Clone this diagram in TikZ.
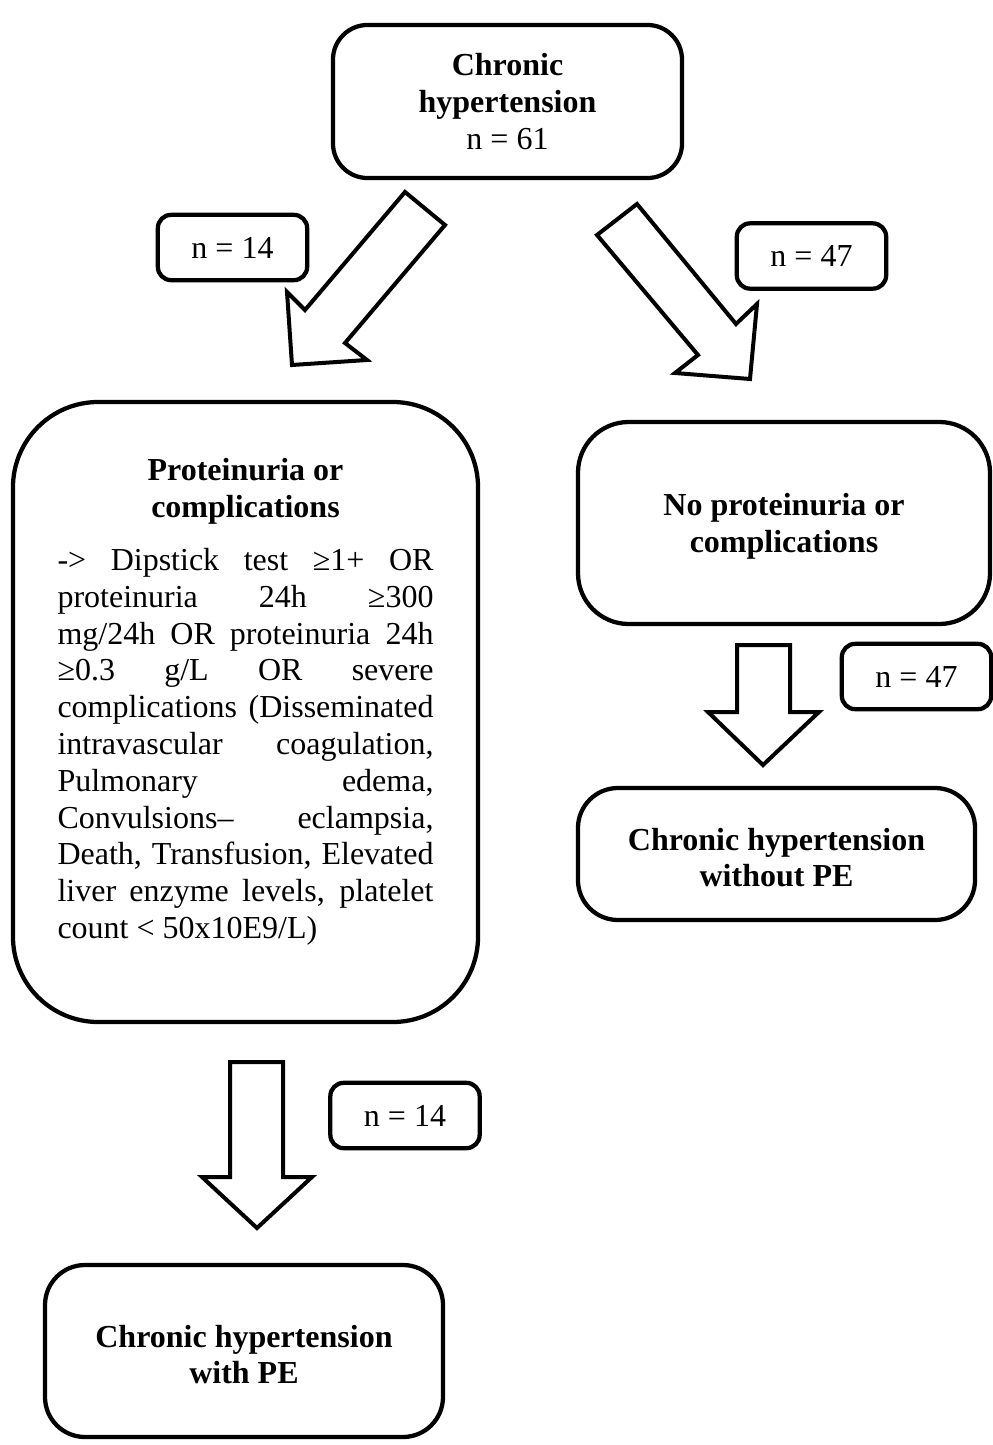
\documentclass[tikz,border=0pt]{standalone}
\usepackage{fontspec}
\setmainfont{Liberation Serif}
% raises the first line so two-line labels sit slightly lower
\newcommand{\tallstrut}{\rule{0pt}{11pt}}
\begin{document}
\begin{tikzpicture}[x=0.375pt,y=-0.375pt,
  box/.style={draw, line width=1.6pt, inner sep=0pt, align=center,
    font=\fontsize{12}{13.8}\selectfont},
  countbox/.style={box, rounded corners=5pt,
    minimum width=56pt, minimum height=24.5pt},
  blockarrow/.style={draw, line width=1.5pt, line join=miter, fill=white}]
\useasboundingbox[fill=white] (0,0) rectangle (993,1445);

% root
\node[box, rounded corners=13pt, minimum width=130.9pt, minimum height=57.4pt]
  (root) at (507.5,101.5) {\textbf{Chronic}\\\textbf{hypertension}\\n = 61};

% branch counts
\node[countbox] (nleft) at (232.5,247.5) {n = 14};
\node[countbox] (nright) at (811.5,256) {n = 47};

% diagonal block arrows
\draw[blockarrow] (405,192) -- (445,225) -- (345,343) -- (367,360)
  -- (292,365) -- (287,292) -- (305,310) -- cycle;
\draw[blockarrow] (637,204) -- (597,235) -- (698,355) -- (675,373)
  -- (750,379) -- (757,304) -- (736,324) -- cycle;

% left branch
\node[box, rounded corners=32pt, minimum width=174.4pt, minimum height=232.5pt]
  (prot) at (245.5,712)
  {\parbox[c][232pt][t]{141pt}{\tolerance=10000\hbadness=10000\hyphenpenalty=10000
   \vspace*{21pt}
   {\centering\bfseries Proteinuria or\\complications\par}
   \vspace{6pt}
   -> Dipstick test ≥1+ OR\linebreak
   proteinuria 24h ≥300\linebreak
   mg/24h OR proteinuria 24h\linebreak
   ≥0.3 g/L OR severe\linebreak
   complications (Disseminated\linebreak
   intravascular coagulation,\linebreak
   Pulmonary edema,\linebreak
   Convulsions– eclampsia,\linebreak
   Death, Transfusion, Elevated\linebreak
   liver enzyme levels, platelet\linebreak
   count < 50x10E9/L)}};

% right branch
\node[box, rounded corners=19pt, minimum width=154.5pt, minimum height=75.75pt]
  (noprot) at (784,523)
  {\tallstrut\textbf{No proteinuria or}\\\textbf{complications}};

% vertical block arrows
\draw[blockarrow] (737,645) -- (790,645) -- (790,712) -- (819,712)
  -- (763,765) -- (708,712) -- (737,712) -- cycle;
\draw[blockarrow] (230,1062) -- (283,1062) -- (283,1177) -- (312,1177)
  -- (257,1228) -- (202,1177) -- (230,1177) -- cycle;

\node[countbox] (nright2) at (916.5,676.5) {n = 47};
\node[countbox] (nleft2) at (405,1115.5) {n = 14};

% outcomes
\node[box, rounded corners=15pt, minimum width=148.9pt, minimum height=49.5pt]
  (without) at (776.5,854)
  {\tallstrut\textbf{Chronic hypertension}\\\textbf{without PE}};
\node[box, rounded corners=15pt, minimum width=149.25pt, minimum height=64.5pt]
  (with) at (244,1351)
  {\tallstrut\textbf{Chronic hypertension}\\\textbf{with PE}};
\end{tikzpicture}
\end{document}
